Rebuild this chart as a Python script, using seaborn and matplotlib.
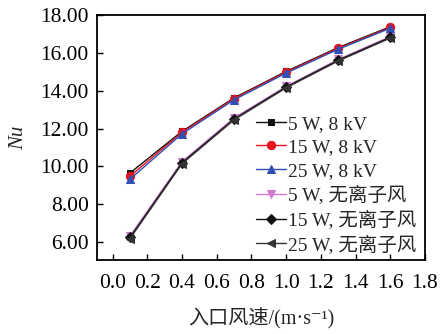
import matplotlib
matplotlib.use("Agg")
import matplotlib.pyplot as plt
import seaborn as sns
import pandas as pd

# Inlet velocity (m/s)
velocity = [0.1, 0.4, 0.7, 1.0, 1.3, 1.6]

# Nusselt number per heating power / ionic-wind condition
nu_5w_8kv = [9.65, 11.85, 13.62, 15.02, 16.28, 17.38]
nu_15w_8kv = [9.48, 11.80, 13.58, 14.98, 16.24, 17.34]
nu_25w_8kv = [9.32, 11.72, 13.52, 14.93, 16.19, 17.30]
nu_5w_none = [6.32, 10.25, 12.56, 14.23, 15.65, 16.86]
nu_15w_none = [6.24, 10.19, 12.50, 14.19, 15.61, 16.82]
nu_25w_none = [6.18, 10.14, 12.46, 14.15, 15.57, 16.78]

labels = ["5 W, 8 kV", "15 W, 8 kV", "25 W, 8 kV",
          "5 W, 无离子风", "15 W, 无离子风", "25 W, 无离子风"]
y_ticks = [6, 8, 10, 12, 14, 16, 18]
x_ticks = [0.0, 0.2, 0.4, 0.6, 0.8, 1.0, 1.2, 1.4, 1.6, 1.8]

series = [nu_5w_8kv, nu_15w_8kv, nu_25w_8kv, nu_5w_none, nu_15w_none, nu_25w_none]
colors = ["#111111", "#e8141c", "#2f4fb4", "#d27ad0", "#111111", "#333333"]
markers = ["s", "o", "^", "v", "D", "<"]
msizes = [5, 6, 6, 6, 5, 6]

sns.set_theme(style="ticks")
plt.rcParams["font.family"] = ["Liberation Serif", "Noto Sans CJK SC", "DejaVu Serif"]

fig = plt.figure(figsize=(4.41, 3.34), dpi=100)
ax = fig.add_axes([97 / 441, 1 - 260 / 334, 328 / 441, 245 / 334])

frames = []
for lab, vals in zip(labels, series):
    frames.append(pd.DataFrame({"v": velocity, "nu": vals, "case": lab}))
df = pd.concat(frames, ignore_index=True)

for lab, c, m, ms in zip(labels, colors, markers, msizes):
    sub = df[df["case"] == lab]
    sns.lineplot(data=sub, x="v", y="nu", ax=ax, color=c, marker=m,
                 markersize=ms, markeredgecolor=c, markerfacecolor=c,
                 linewidth=1.0, label=lab)

ax.set_xlim(-0.09, 1.8)
ax.set_ylim(5.05, 18)
ax.set_xticks(x_ticks)
ax.set_xticklabels([f"{t:.1f}" for t in x_ticks])
ax.set_yticks(y_ticks)
ax.set_yticklabels([f"{t:.2f}" for t in y_ticks])
ax.tick_params(direction="in", length=4, width=1, labelsize=15.5, colors="black")
ax.tick_params(axis="x", pad=10)
ax.tick_params(axis="y", pad=6)
for s in ax.spines.values():
    s.set_linewidth(1.3)
    s.set_color("black")

ax.set_xlabel("入口风速/(m·s⁻¹)", fontsize=14.5, labelpad=11)
ax.set_ylabel("Nu", fontsize=15, style="italic", labelpad=9)

leg = ax.legend(loc="lower right", frameon=False, fontsize=14,
                handlelength=1.5, handletextpad=0.1, labelspacing=0.3,
                borderpad=0.2, borderaxespad=0.1, bbox_to_anchor=(0.99, 0.0))

fig.savefig("out.png", dpi=100)
